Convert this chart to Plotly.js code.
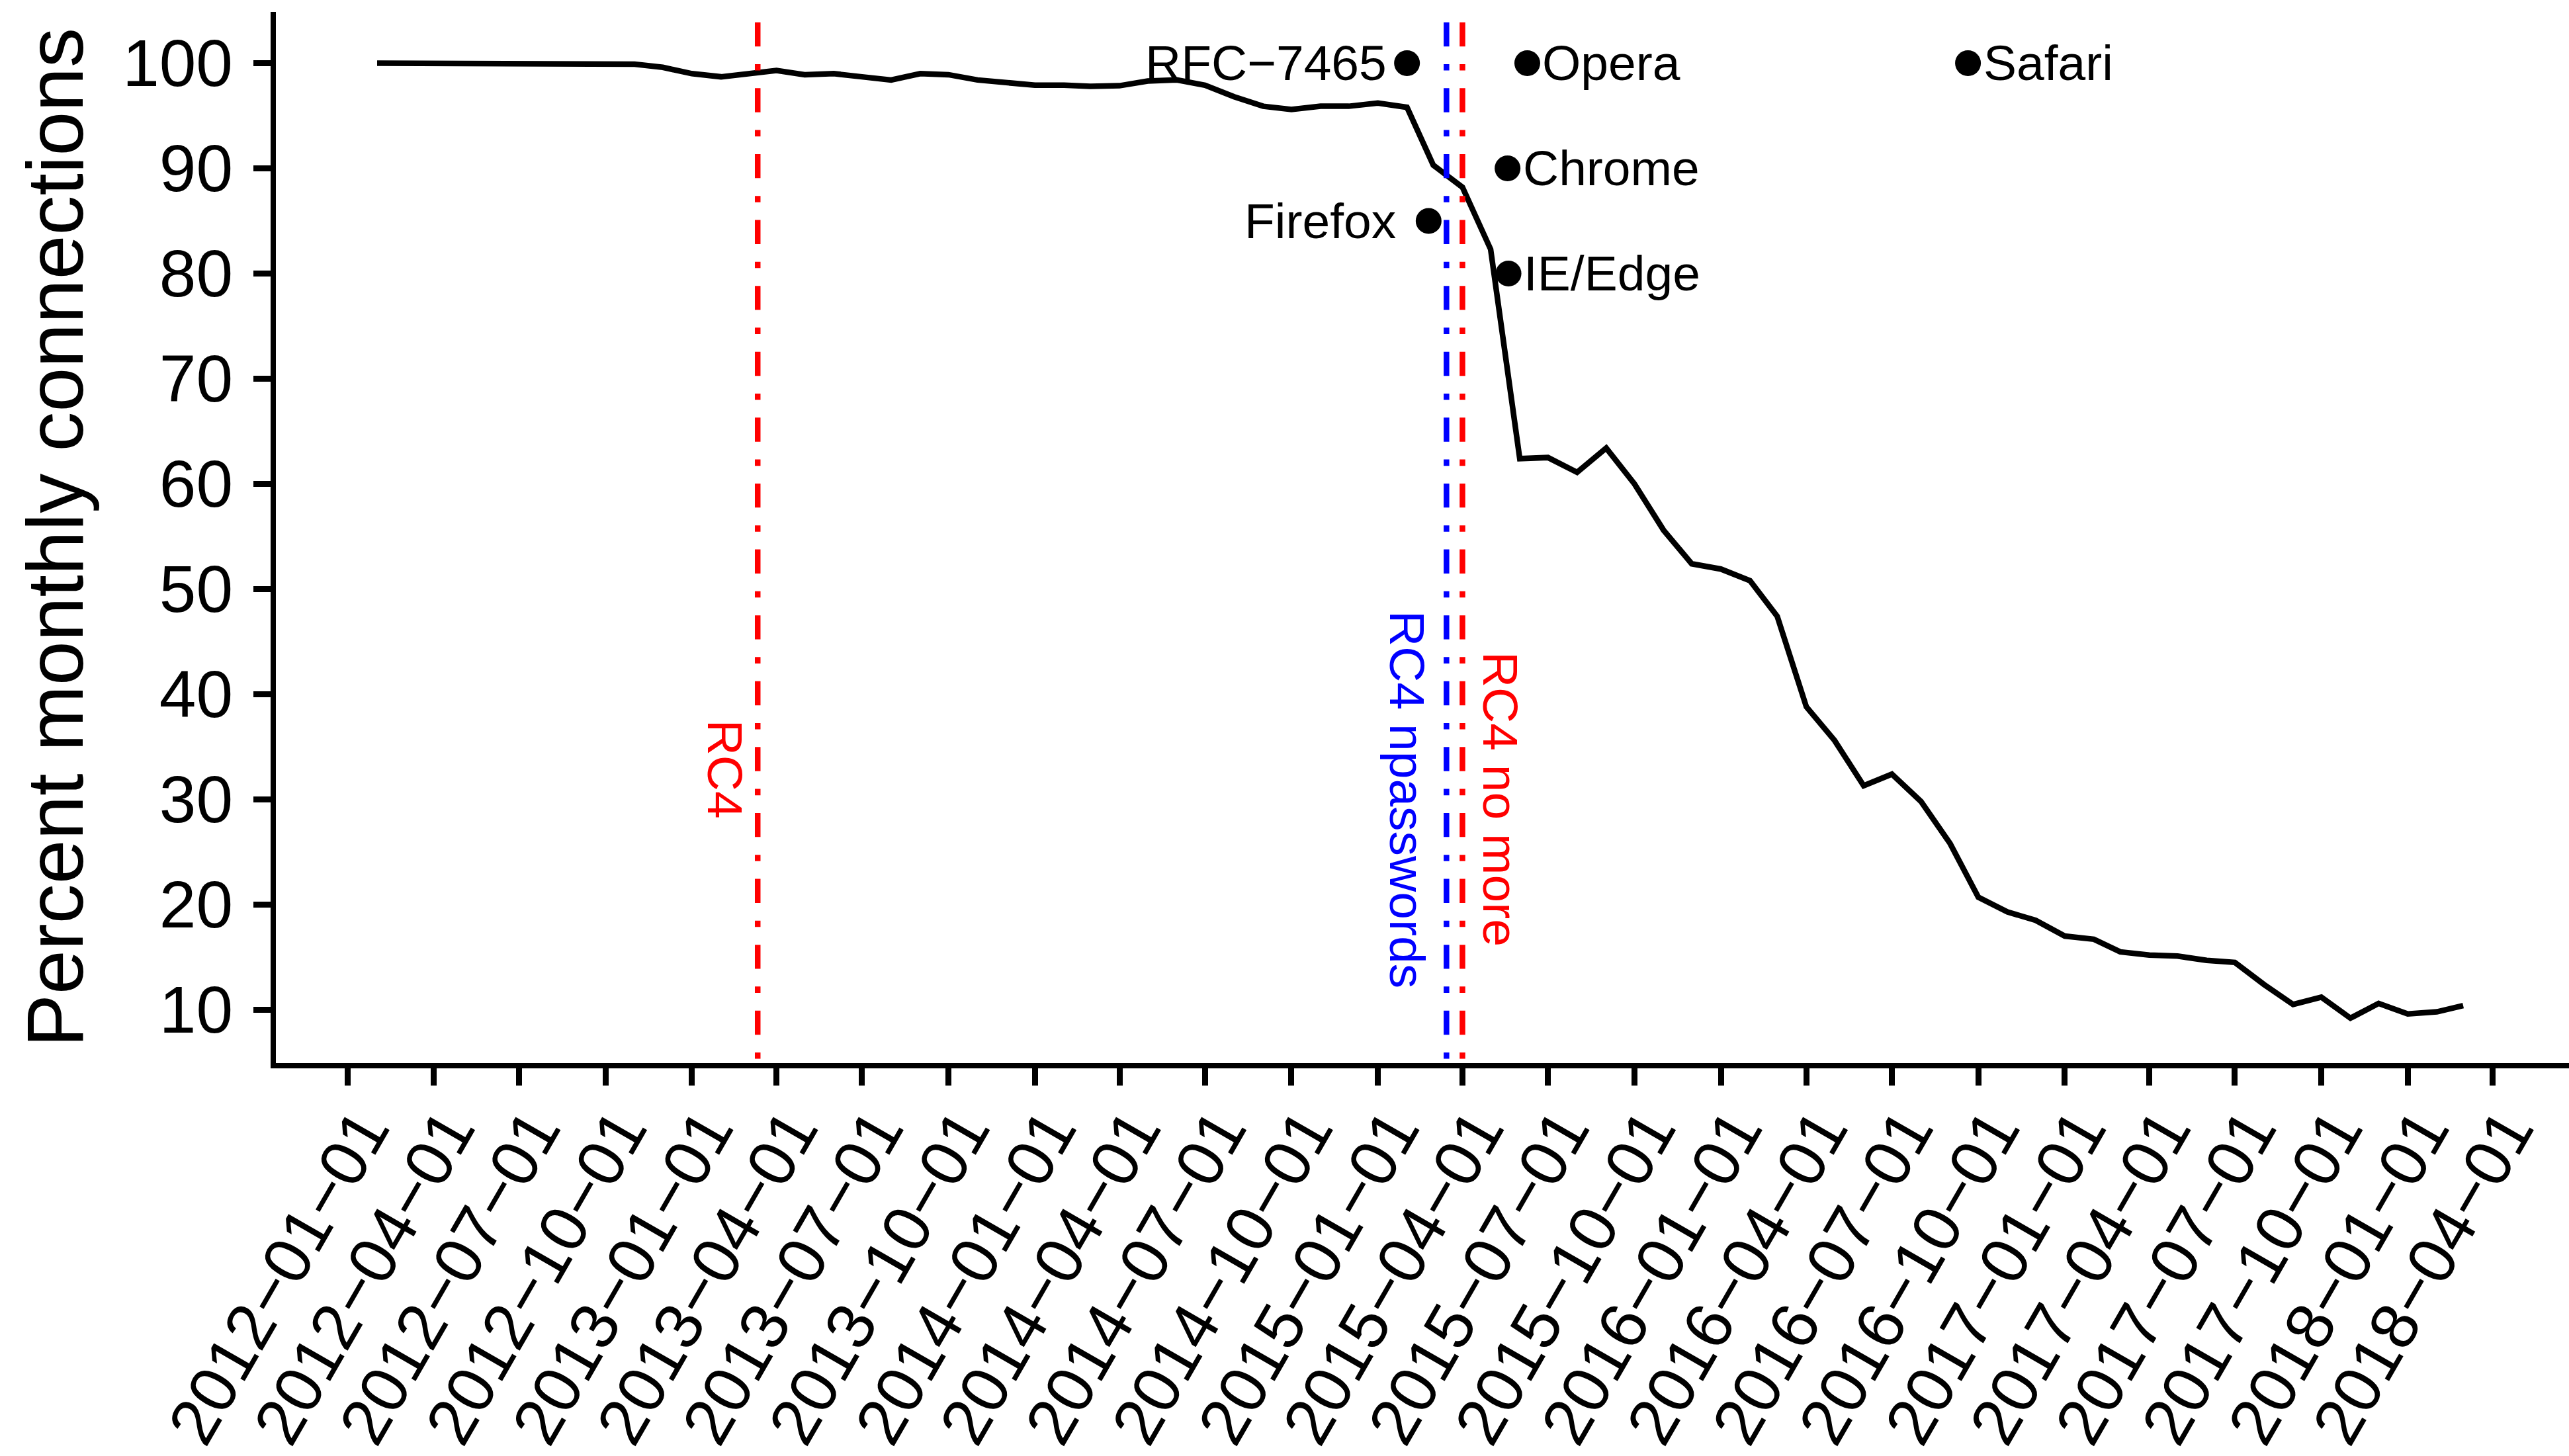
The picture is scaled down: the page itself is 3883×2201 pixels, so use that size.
<!DOCTYPE html>
<html>
<head>
<meta charset="utf-8">
<script src="https://cdn.plot.ly/plotly-3.0.1.min.js"></script>
<style>
  html, body { margin: 0; padding: 0; background: #ffffff; }
  #chart { width: 3883px; height: 2201px; }
</style>
</head>
<body>
<div id="chart"></div>
<script>
// Monthly share of connections (percent)
const months = [
  '2012-02-01','2012-03-01','2012-04-01','2012-05-01','2012-06-01','2012-07-01',
  '2012-08-01','2012-09-01','2012-10-01','2012-11-01','2012-12-01',
  '2013-01-01','2013-02-01','2013-03-01','2013-04-01','2013-05-01','2013-06-01',
  '2013-07-01','2013-08-01','2013-09-01','2013-10-01','2013-11-01','2013-12-01',
  '2014-01-01','2014-02-01','2014-03-01','2014-04-01','2014-05-01','2014-06-01',
  '2014-07-01','2014-08-01','2014-09-01','2014-10-01','2014-11-01','2014-12-01',
  '2015-01-01','2015-02-01','2015-03-01','2015-04-01','2015-05-01','2015-06-01',
  '2015-07-01','2015-08-01','2015-09-01','2015-10-01','2015-11-01','2015-12-01',
  '2016-01-01','2016-02-01','2016-03-01','2016-04-01','2016-05-01','2016-06-01',
  '2016-07-01','2016-08-01','2016-09-01','2016-10-01','2016-11-01','2016-12-01',
  '2017-01-01','2017-02-01','2017-03-01','2017-04-01','2017-05-01','2017-06-01',
  '2017-07-01','2017-08-01','2017-09-01','2017-10-01','2017-11-01','2017-12-01',
  '2018-01-01','2018-02-01','2018-03-01'
];
const percent = [
  100.0, 100.0, 100.0, 99.9, 99.9, 99.9,
  99.9, 99.9, 99.9, 99.9, 99.6,
  99.0, 98.7, 99.0, 99.3, 98.9, 99.0,
  98.7, 98.4, 99.0, 98.9, 98.4, 98.2,
  97.9, 97.9, 97.8, 97.85, 98.3, 98.4,
  97.9, 96.8, 95.9, 95.6, 95.9, 95.9,
  96.2, 95.8, 90.3, 88.2, 82.3, 62.4,
  62.5, 61.1, 63.4, 60.0, 55.6, 52.4,
  51.9, 50.8, 47.4, 38.8, 35.6, 31.3,
  32.4, 29.8, 25.8, 20.7, 19.3, 18.5,
  17.0, 16.7, 15.5, 15.2, 15.1, 14.7,
  14.5, 12.4, 10.5, 11.2, 9.2, 10.6,
  9.6, 9.8, 10.4
];

// Browser / standard events
const eventNames  = ['RFC\u22127465', 'Firefox', 'Chrome', 'IE/Edge', 'Opera', 'Safari'];
const eventDates  = ['2015-02-01', '2015-02-24', '2015-05-19', '2015-05-20', '2015-06-09', '2016-09-20'];
const eventLevels = [100, 85, 90, 80, 100, 100];

// Published attacks
const attackNames = ['RC4', 'RC4 npasswords', 'RC4 no more'];
const attackDates = ['2013-03-12', '2015-03-15', '2015-04-01'];

// Axis ticks
const xTickDates = [
  '2012-01-01','2012-04-01','2012-07-01','2012-10-01',
  '2013-01-01','2013-04-01','2013-07-01','2013-10-01',
  '2014-01-01','2014-04-01','2014-07-01','2014-10-01',
  '2015-01-01','2015-04-01','2015-07-01','2015-10-01',
  '2016-01-01','2016-04-01','2016-07-01','2016-10-01',
  '2017-01-01','2017-04-01','2017-07-01','2017-10-01',
  '2018-01-01','2018-04-01'
];
const yTicks = [10, 20, 30, 40, 50, 60, 70, 80, 90, 100];

const FONT = 'Liberation Sans, Arial, Helvetica, sans-serif';
const RED = '#ff0000';
const BLUE = '#0000ff';
const DASHDOT = '9.6px,26.8px,36.4px,26.8px';

const xTickText = xTickDates.map(d => d.replace(/-/g, '\u2212'));

const traces = [
  {
    type: 'scatter', mode: 'lines',
    x: months, y: percent,
    line: { color: '#000000', width: 8.5, shape: 'linear' },
    hoverinfo: 'skip'
  },
  {
    type: 'scatter', mode: 'markers',
    x: eventDates, y: eventLevels,
    marker: { color: '#000000', size: 39, line: { width: 0 } },
    hoverinfo: 'skip'
  }
];

// Label placement for the event dots: text to the left for the first two
const labelLeft = [true, true, false, false, false, false];
const labelShift = [-30, -48, 22, 22, 22, 22];

const annotations = eventNames.map((name, i) => ({
  x: eventDates[i], y: eventLevels[i], xref: 'x', yref: 'y',
  text: name, showarrow: false,
  xanchor: labelLeft[i] ? 'right' : 'left', yanchor: 'middle',
  xshift: labelShift[i], borderpad: 0,
  font: { family: FONT, size: 75, color: '#000000' }
}));

// Vertical labels beside the attack lines
const attackColors = [RED, BLUE, RED];
const attackLabelY = [32.86, 30, 30];
const attackLabelShift = [-49, -60, 57];
attackNames.forEach((name, i) => {
  annotations.push({
    x: attackDates[i], y: attackLabelY[i], xref: 'x', yref: 'y',
    text: name, showarrow: false, textangle: 90,
    xanchor: 'center', yanchor: 'middle',
    xshift: attackLabelShift[i], borderpad: 0,
    font: { family: FONT, size: 75, color: attackColors[i] }
  });
});

const shapes = attackDates.map((d, i) => ({
  type: 'line', xref: 'x', yref: 'y', layer: 'above',
  x0: d, x1: d, y0: 106.17, y1: 0,
  line: { color: attackColors[i], width: 8.5, dash: DASHDOT }
}));

const layout = {
  width: 3883, height: 2201,
  margin: { l: 417, r: 0, t: 18, b: 2201 - 1607, pad: 0 },
  paper_bgcolor: '#ffffff', plot_bgcolor: '#ffffff',
  showlegend: false,
  font: { family: FONT, color: '#000000' },
  xaxis: {
    type: 'date',
    range: ['2011-10-16 06:15', '2018-06-21 14:24'],
    tickmode: 'array', tickvals: xTickDates, ticktext: xTickText,
    tickangle: -60,
    ticks: 'outside', ticklen: 26, tickwidth: 9, tickcolor: '#000000',
    ticklabelstandoff: -32, ticklabelshift: 22,
    showline: true, linewidth: 8, linecolor: '#000000',
    showgrid: false, zeroline: false,
    tickfont: { family: FONT, size: 100, color: '#000000' },
    fixedrange: true
  },
  yaxis: {
    range: [4.93, 104.87],
    tickmode: 'array', tickvals: yTicks,
    ticks: 'outside', ticklen: 26, tickwidth: 9, tickcolor: '#000000',
    ticklabelstandoff: 11,
    showline: true, linewidth: 8, linecolor: '#000000',
    showgrid: false, zeroline: false,
    tickfont: { family: FONT, size: 100, color: '#000000' },
    title: { text: 'Percent monthly connections', font: { family: FONT, size: 120, color: '#000000' }, standoff: 22 },
    fixedrange: true
  },
  shapes: shapes,
  annotations: annotations
};

Plotly.newPlot('chart', traces, layout, { displayModeBar: false, staticPlot: true });
</script>
</body>
</html>
